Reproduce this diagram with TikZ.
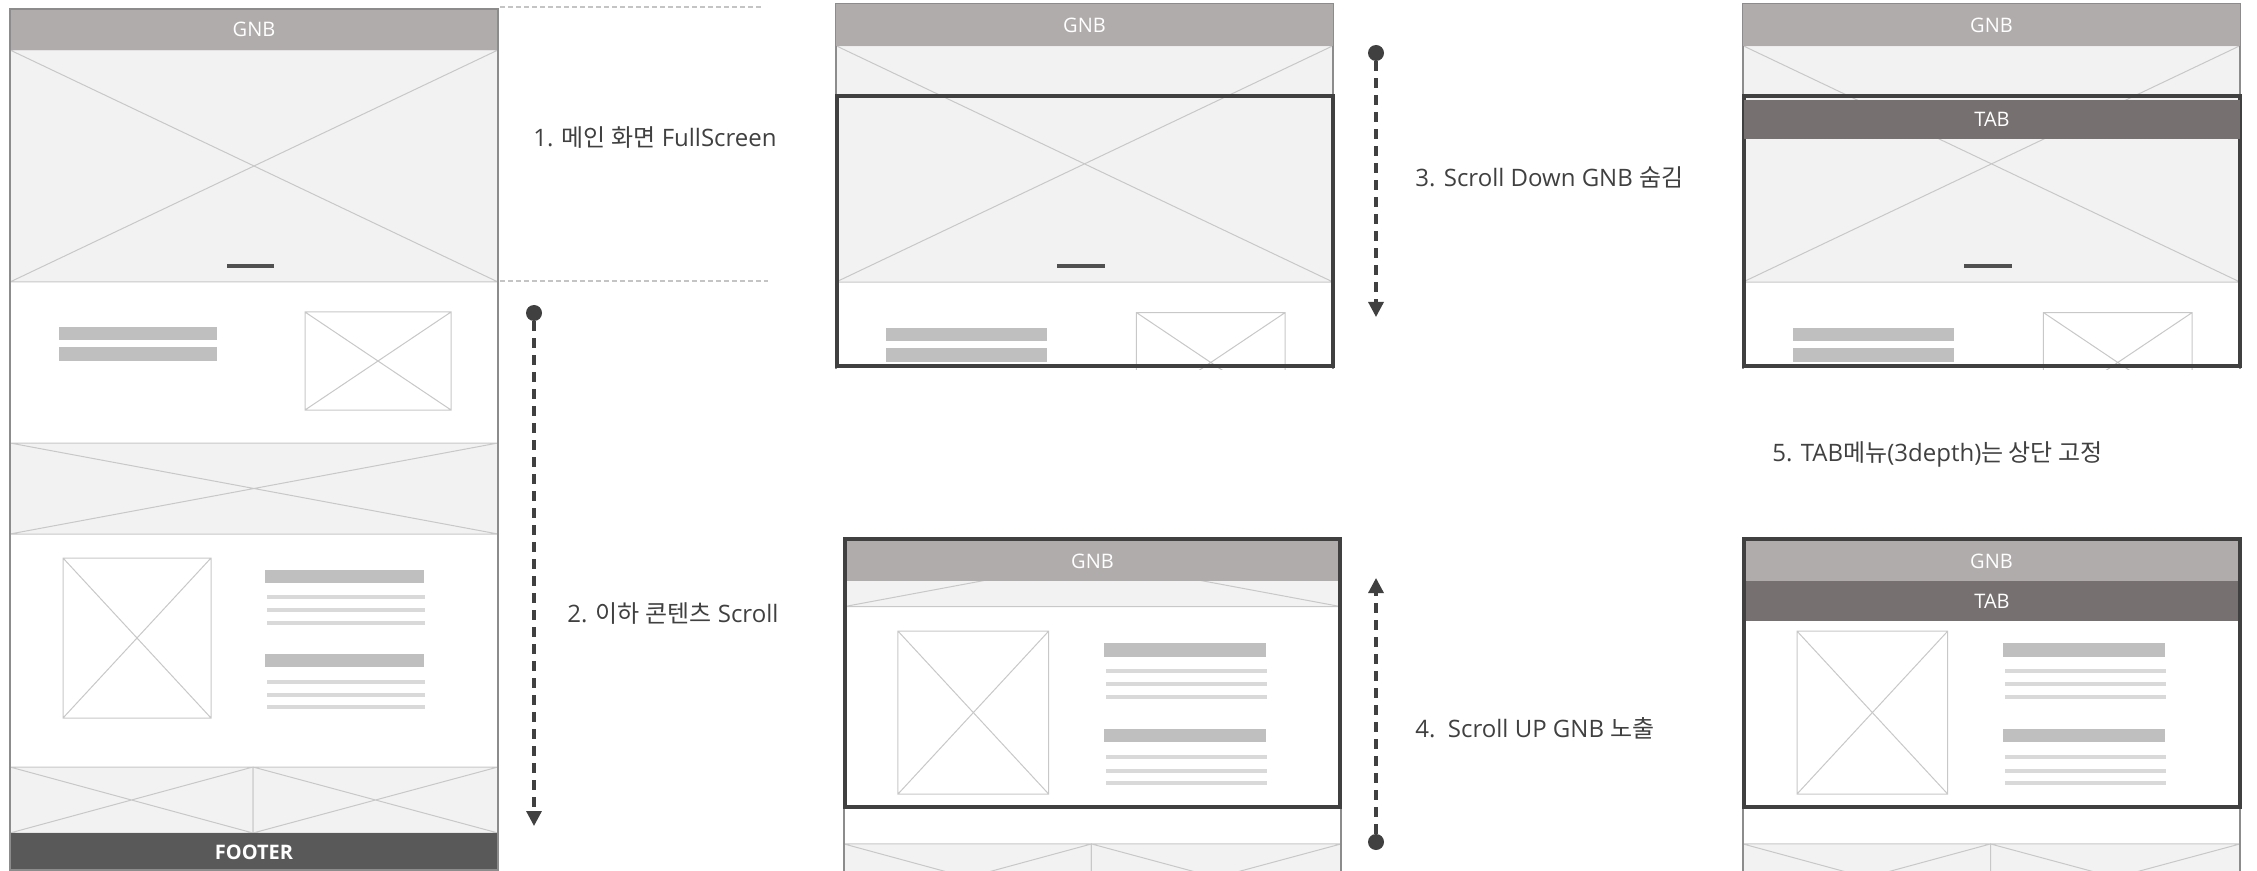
\documentclass[tikz,border=0pt]{standalone}
\usepackage{fontspec}
\setmainfont{Open Sans}
\newfontfamily\krfont{Noto Sans CJK KR}
\usepackage{tikz}
\usetikzlibrary{positioning}
\usetikzlibrary{arrows.meta}
\usepackage{xcolor}

\definecolor{gnbC}{HTML}{B0ACAB}
\definecolor{tabC}{HTML}{767170}
\definecolor{footC}{HTML}{595959}
\definecolor{boxC}{HTML}{F2F2F2}
\definecolor{wireC}{HTML}{C8C8C8}
\definecolor{barC}{HTML}{BFBFBF}
\definecolor{lineC}{HTML}{D9D9D9}
\definecolor{markC}{HTML}{505050}
\definecolor{edgeC}{HTML}{8C8C8C}
\definecolor{frameC}{HTML}{404040}
\definecolor{inkC}{HTML}{404040}
\definecolor{guideC}{HTML}{C4C4C4}

\tikzset{
	wire/.style={draw=wireC, line width=0.5pt},
	textbar/.style={fill=barC},
	textline/.style={fill=lineC},
	markbar/.style={fill=markC},
	phoneedge/.style={draw=edgeC, line width=1.2pt},
	viewframe/.style={draw=frameC, line width=2pt},
	guide/.style={draw=guideC, line width=0.6pt, dash pattern=on 2.5pt off 1.5pt},
	bandbar/.style={fill=#1, text=white, inner sep=0pt, outer sep=0pt, minimum height=20pt, font=\fontsize{10pt}{12pt}\selectfont},
	stepnote/.style={anchor=base west, inner sep=0pt, text=inkC, font=\fontsize{12pt}{14pt}\selectfont},
	dotmark/.style={circle, fill=frameC, inner sep=0pt, minimum size=8pt},
	scrollarrow/.style={draw=frameC, line width=1.6pt, dash pattern=on 5pt off 3.5pt, -{Triangle[width=7.5pt, length=7.5pt]}}
}

% x-box: fill, x1, y1, x2, y2
\newcommand{\xbox}[5]{\draw[wire, fill=#1] (#2,#3) rectangle (#4,#5) (#2,#3) -- (#4,#5) (#2,#5) -- (#4,#3);}

% page below the GNB, in page pixels
\newcommand{\pagebody}{%
	\fill[white] (0,41) rectangle (488,900);
	\xbox{boxC}{0}{41}{488}{273}
	\fill[markbar] (217,255) rectangle (264,259);
	\fill[textbar] (49,318) rectangle (207,331);
	\fill[textbar] (49,338) rectangle (207,352);
	\xbox{white}{295}{303}{441}{401}
	\xbox{boxC}{0}{434}{488}{525}
	\xbox{white}{53}{549}{201}{709}
	\foreach \y in {561,645} \fill[textbar] (255,\y) rectangle (414,\y+13);
	\foreach \y in {588,601,614,673,686,698} \fill[textline] (257,\y-2) rectangle (415,\y+2);
	\xbox{boxC}{0}{758}{243}{824}
	\xbox{boxC}{243}{758}{488}{824}
}

\begin{document}
\begin{tikzpicture}[x=0.5pt, y=-0.5pt]
	\useasboundingbox[fill=white] (0,0) rectangle (2257,871);

	% 1. full page
	\begin{scope}[shift={(10,9)}]
		\pagebody
	\end{scope}
	\node[bandbar=gnbC, minimum width=244pt, minimum height=20.5pt] (gnbOne) at (254,29.5) {GNB};
	\node[bandbar=footC, minimum width=244pt, minimum height=19pt, font=\fontsize{10pt}{12pt}\selectfont\bfseries] (footer) at (254,852) {FOOTER};
	\draw[phoneedge] (10,9) rectangle (498,870.5);
	\draw[guide] (500,7) -- (764,7);
	\draw[guide] (500,281) -- (768,281);
	\node[stepnote] (noteOne) at (533,147) {1. {\krfont 메인 화면} FullScreen};

	\node[dotmark] (dotTwo) at (534,313) {};
	\coordinate (tipTwo) at (534,826);
	\draw[scrollarrow] (dotTwo) -- (tipTwo);
	\node[stepnote] (noteTwo) at (567,622) {2. {\krfont 이하 콘텐츠} Scroll};

	% 3. scroll down
	\begin{scope}
		\clip (836,4) rectangle (1333,369);
		\begin{scope}[shift={(836,4)}, scale=1.0184]
			\pagebody
		\end{scope}
	\end{scope}
	\draw[phoneedge] (836,369) -- (836,4) -- (1333,4) -- (1333,369);
	\node[bandbar=gnbC, minimum width=248.5pt, minimum height=21pt] (gnbTwo) at (1084.5,25) {GNB};
	\draw[viewframe] (837,96) rectangle (1333,366);

	\node[dotmark] (dotThree) at (1376,53) {};
	\coordinate (tipThree) at (1376,317);
	\draw[scrollarrow] (dotThree) -- (tipThree);
	\node[stepnote] (noteThree) at (1415,187) {3. Scroll Down GNB {\krfont 숨김}};

	% 4. scroll up
	\begin{scope}
		\clip (844,539) rectangle (1341,871);
		\begin{scope}[shift={(844,72)}, scale=1.0184]
			\pagebody
		\end{scope}
	\end{scope}
	\draw[phoneedge] (844,539) -- (844,871) (1341,539) -- (1341,871);
	\node[bandbar=gnbC, minimum width=248.5pt] (gnbFour) at (1092.5,561) {GNB};
	\draw[viewframe] (845,539) rectangle (1340,807);

	\node[dotmark] (dotFour) at (1376,842) {};
	\coordinate (tipFour) at (1376,578);
	\draw[scrollarrow] (dotFour) -- (tipFour);
	\node[stepnote] (noteFour) at (1415,737) {4.\ \ Scroll UP GNB {\krfont 노출}};

	% 5. fixed tab
	\begin{scope}
		\clip (1743,4) rectangle (2240,369);
		\begin{scope}[shift={(1743,4)}, scale=1.0184]
			\pagebody
		\end{scope}
	\end{scope}
	\draw[phoneedge] (1743,369) -- (1743,4) -- (2240,4) -- (2240,369);
	\node[bandbar=gnbC, minimum width=248.5pt, minimum height=21pt] (gnbThree) at (1991.5,25) {GNB};
	\draw[viewframe] (1744,96) rectangle (2240,366);
	\node[bandbar=tabC, minimum width=248pt, minimum height=19.5pt] (tabThree) at (1992,119.5) {TAB};

	\begin{scope}
		\clip (1743,539) rectangle (2240,871);
		\begin{scope}[shift={(1743,72)}, scale=1.0184]
			\pagebody
		\end{scope}
	\end{scope}
	\draw[phoneedge] (1743,539) -- (1743,871) (2240,539) -- (2240,871);
	\node[bandbar=gnbC, minimum width=248.5pt] (gnbFive) at (1991.5,561) {GNB};
	\node[bandbar=tabC, minimum width=248pt] (tabFive) at (1992,601) {TAB};
	\draw[viewframe] (1744,539) rectangle (2240,807);

	\node[stepnote] (noteFive) at (1772,461) {5. TAB{\krfont 메뉴}(3depth){\krfont 는 상단 고정}};
\end{tikzpicture}
\end{document}
